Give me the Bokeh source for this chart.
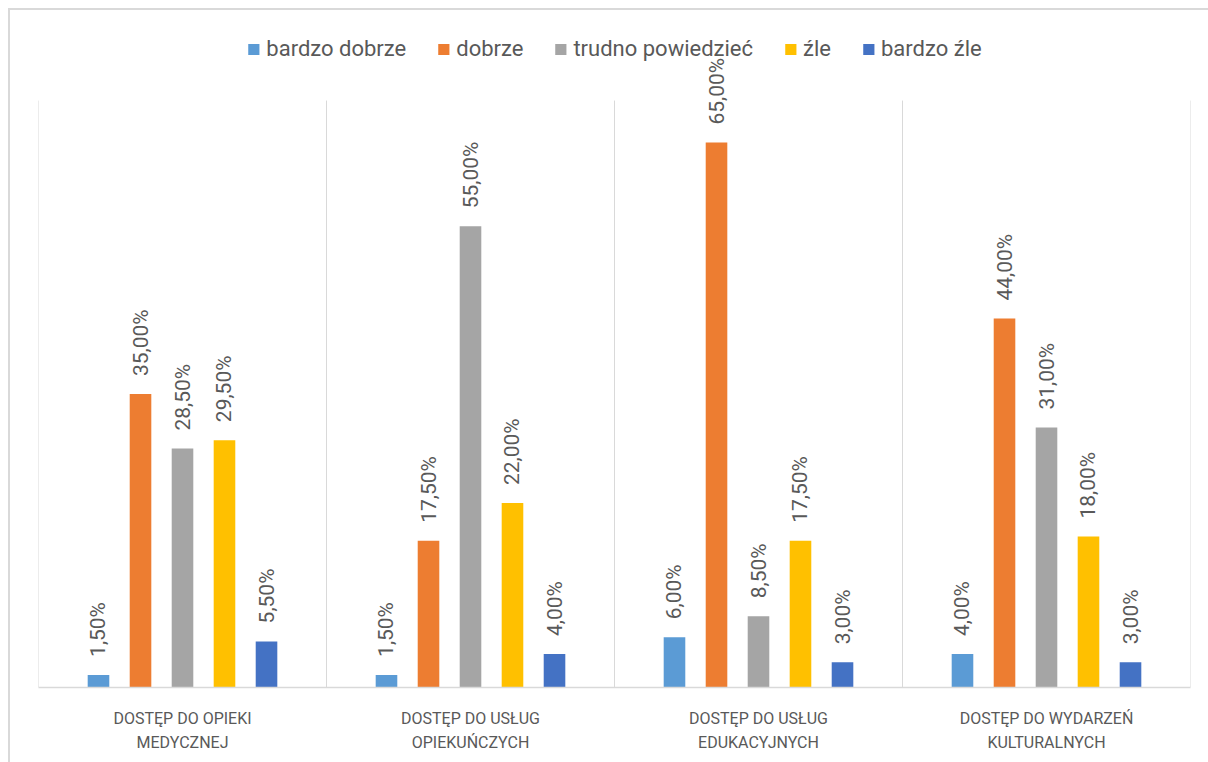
import math
from bokeh.plotting import figure
from bokeh.models import (ColumnDataSource, Range1d, FixedTicker, Legend, LegendItem,
                          LinearAxis)
from bokeh.embed import file_html
from bokeh.resources import INLINE
from bokeh.core.properties import value

# ---- data ----
categories_line1 = ["DOSTĘP DO OPIEKI", "DOSTĘP DO USŁUG", "DOSTĘP DO USŁUG", "DOSTĘP DO WYDARZEŃ"]
categories_line2 = ["MEDYCZNEJ", "OPIEKUŃCZYCH", "EDUKACYJNYCH", "KULTURALNYCH"]
series_names = ["bardzo dobrze", "dobrze", "trudno powiedzieć", "źle", "bardzo źle"]
bardzo_dobrze = [1.5, 1.5, 6.0, 4.0]
dobrze = [35.0, 17.5, 65.0, 44.0]
trudno_powiedziec = [28.5, 55.0, 8.5, 31.0]
zle = [29.5, 22.0, 17.5, 18.0]
bardzo_zle = [5.5, 4.0, 3.0, 3.0]
series_values = [bardzo_dobrze, dobrze, trudno_powiedziec, zle, bardzo_zle]
colors = ["#5B9BD5", "#ED7D31", "#A5A5A5", "#FFC000", "#4472C4"]

# ---- layout constants ----
offsets = [-0.2917, -0.1458, 0.0, 0.1458, 0.2917]
bar_w = 0.075
GRID_TOP = 70
FONT = "Roboto"
TXT = "#595959"
LINE = "#d9d9d9"
n = len(categories_line1)

p = figure(
    width=1208, height=762,
    x_range=Range1d(0, n), y_range=Range1d(0, 77.64),
    output_backend="svg", toolbar_location=None,
    x_axis_location=None, y_axis_location=None,
    min_border_left=38, min_border_right=18, min_border_top=36, min_border_bottom=75,
)
p.border_fill_alpha = 0
p.styles = {
    "background": ("linear-gradient(#d9d9d9,#d9d9d9) 8px 8px / 2px 100% no-repeat, "
                   "linear-gradient(#d9d9d9,#d9d9d9) 8px 8px / 100% 2px no-repeat, #ffffff"),
}
p.outline_line_color = None
p.xgrid.visible = False
p.ygrid.visible = False

# category separators (vertical grid lines between groups)
bounds = list(range(n + 1))
p.segment(x0=bounds, y0=[0] * len(bounds), x1=bounds, y1=[GRID_TOP] * len(bounds),
          line_color=LINE, line_width=1)

centers = [i + 0.5 for i in range(n)]
ax1 = LinearAxis(ticker=FixedTicker(ticks=centers),
                 major_label_overrides={c: t for c, t in zip(centers, categories_line1)})
ax2 = LinearAxis(ticker=FixedTicker(ticks=centers),
                 major_label_overrides={c: t for c, t in zip(centers, categories_line2)})
for ax in (ax1, ax2):
    ax.major_tick_line_color = None
    ax.minor_tick_line_color = None
    ax.major_label_text_font = FONT
    ax.major_label_text_font_size = "16px"
    ax.major_label_text_color = TXT
ax1.axis_line_color = LINE
ax1.axis_line_width = 1.5
ax1.major_label_standoff = 15
ax2.axis_line_color = None
ax2.major_label_standoff = -4
p.add_layout(ax1, "below")
p.add_layout(ax2, "below")

items = []
for i, (name, vals) in enumerate(zip(series_names, series_values)):
    src = ColumnDataSource(dict(
        x=[j + 0.5 + offsets[i] for j in range(len(vals))],
        top=vals,
        label=[f"{v:.2f}".replace(".", ",") + "%" for v in vals],
    ))
    r = p.vbar(x="x", top="top", width=bar_w, source=src,
               fill_color=colors[i], line_color=None)
    p.text(x="x", y="top", text="label", source=src, angle=math.pi / 2,
           text_align="left", text_baseline="middle", y_offset=-18,
           text_font=value(FONT), text_font_size="21px", text_color=TXT)
    items.append(LegendItem(label=name, renderers=[r]))

legend = Legend(items=items, location="top_center", orientation="horizontal",
                border_line_color=None, background_fill_alpha=0,
                margin=0, padding=0, spacing=30, label_standoff=6,
                glyph_width=14, glyph_height=14, label_height=20,
                label_text_font=FONT, label_text_font_size="22px",
                label_text_color=TXT)
p.add_layout(legend)

open("out.html", "w").write(file_html(p, INLINE))
